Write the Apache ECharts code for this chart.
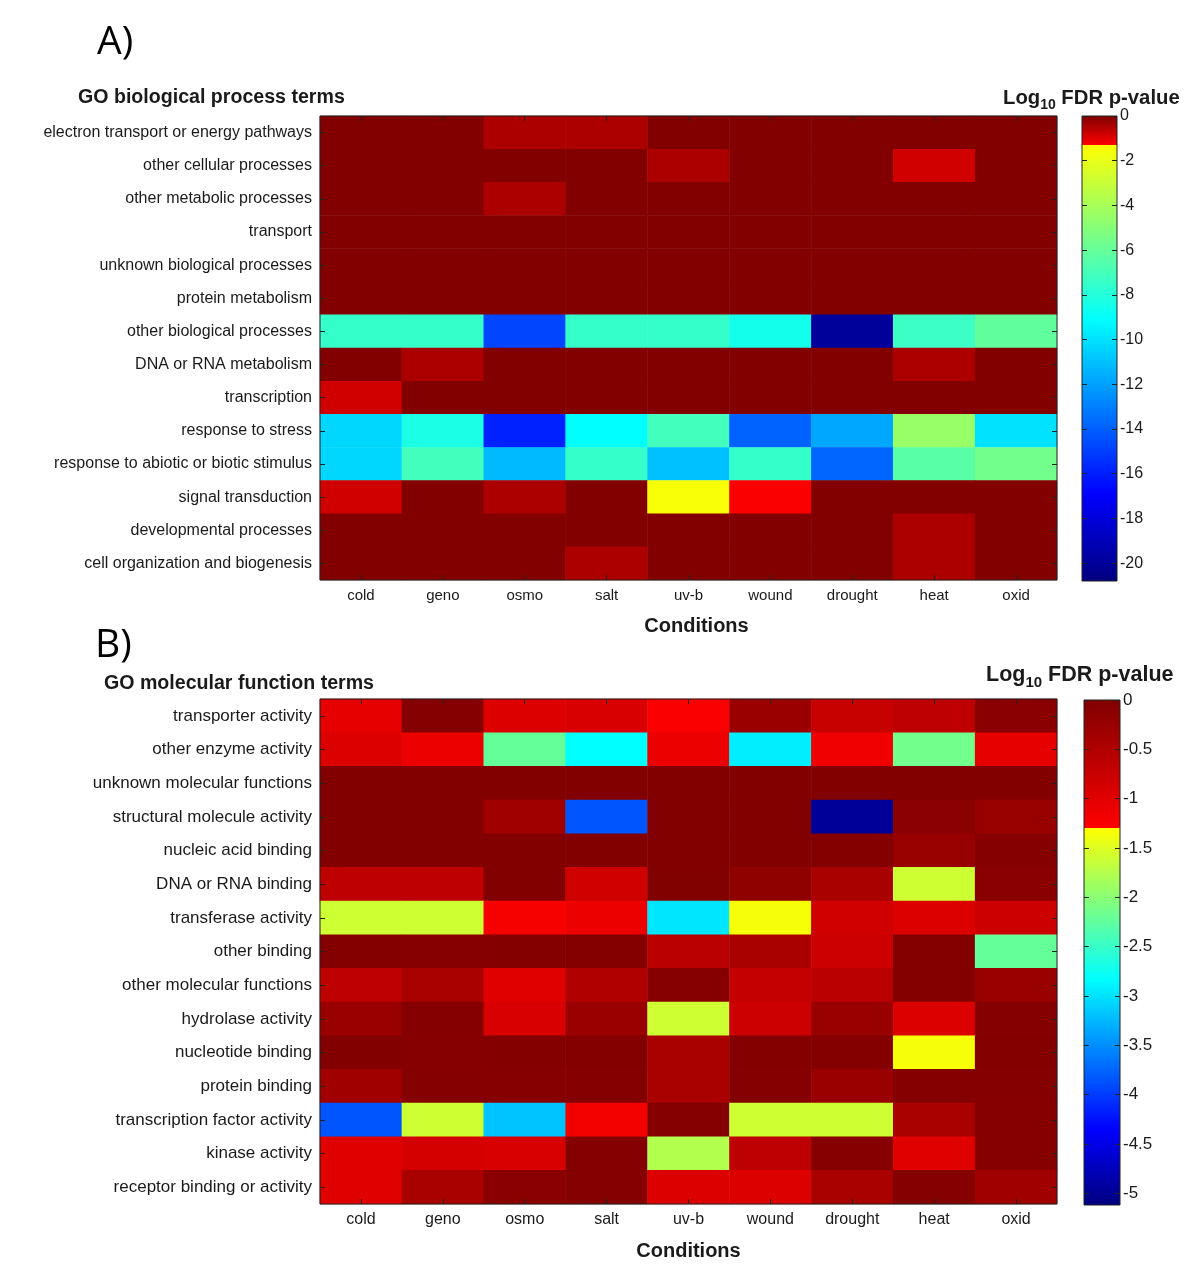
<!DOCTYPE html>
<html><head><meta charset="utf-8">
<script src="https://cdn.jsdelivr.net/npm/echarts@6/dist/echarts.min.js"></script>
<style>html,body{margin:0;padding:0;background:#fff}#c{width:1200px;height:1271px}</style>
</head><body><div id="c"></div>
<script>
// ---------------- DATA ----------------
const conditions = ['cold','geno','osmo','salt','uv-b','wound','drought','heat','oxid'];

const bpTerms = [
  'electron transport or energy pathways','other cellular processes','other metabolic processes',
  'transport','unknown biological processes','protein metabolism','other biological processes',
  'DNA or RNA metabolism','transcription','response to stress','response to abiotic or biotic stimulus',
  'signal transduction','developmental processes','cell organization and biogenesis'
];
// log10 FDR p-values, one row per term, columns follow `conditions`
const bpValues = [
  [-0.04,-0.04,-0.45,-0.45,-0.04,-0.04,-0.04,-0.04,-0.04],
  [-0.04,-0.04,-0.04,-0.04,-0.45,-0.04,-0.04,-0.82,-0.04],
  [-0.04,-0.04,-0.45,-0.04,-0.04,-0.04,-0.04,-0.04,-0.04],
  [-0.04,-0.04,-0.04,-0.04,-0.04,-0.04,-0.04,-0.04,-0.04],
  [-0.04,-0.04,-0.04,-0.04,-0.04,-0.04,-0.04,-0.04,-0.04],
  [-0.04,-0.04,-0.04,-0.04,-0.04,-0.04,-0.04,-0.04,-0.04],
  [-7.5,-7.5,-14.8,-7.5,-7.5,-8.5,-20.0,-7.3,-6.1],
  [-0.04,-0.45,-0.04,-0.04,-0.04,-0.04,-0.04,-0.45,-0.04],
  [-0.82,-0.04,-0.04,-0.04,-0.04,-0.04,-0.04,-0.04,-0.04],
  [-10.3,-8.3,-15.9,-9.1,-7.1,-13.9,-11.8,-4.4,-10.0],
  [-10.3,-7.1,-11.2,-7.5,-11.0,-7.5,-13.8,-6.4,-5.6],
  [-0.82,-0.04,-0.45,-0.04,-1.5,-1.25,-0.04,-0.04,-0.04],
  [-0.04,-0.04,-0.04,-0.04,-0.04,-0.04,-0.04,-0.45,-0.04],
  [-0.04,-0.04,-0.04,-0.45,-0.04,-0.04,-0.04,-0.45,-0.04]
];

const mfTerms = [
  'transporter activity','other enzyme activity','unknown molecular functions','structural molecule activity',
  'nucleic acid binding','DNA or RNA binding','transferase activity','other binding','other molecular functions',
  'hydrolase activity','nucleotide binding','protein binding','transcription factor activity','kinase activity',
  'receptor binding or activity'
];
const mfValues = [
  [-1.04,-0.05,-0.95,-0.90,-1.25,-0.27,-0.73,-0.65,-0.10],
  [-0.95,-1.10,-2.22,-2.83,-1.10,-2.93,-1.15,-2.14,-1.04],
  [-0.03,-0.03,-0.03,-0.03,-0.03,-0.03,-0.03,-0.03,-0.03],
  [-0.03,-0.03,-0.33,-3.85,-0.03,-0.03,-4.97,-0.12,-0.25],
  [-0.03,-0.03,-0.03,-0.03,-0.03,-0.03,-0.04,-0.25,-0.06],
  [-0.65,-0.65,-0.03,-0.80,-0.02,-0.16,-0.43,-1.60,-0.10],
  [-1.60,-1.60,-1.22,-1.10,-2.98,-1.35,-0.82,-0.95,-0.78],
  [-0.04,-0.08,-0.04,-0.04,-0.60,-0.42,-0.78,-0.04,-2.22],
  [-0.65,-0.43,-0.99,-0.50,-0.08,-0.70,-0.60,-0.04,-0.26],
  [-0.26,-0.05,-0.90,-0.27,-1.60,-0.78,-0.26,-0.95,-0.05],
  [-0.03,-0.08,-0.04,-0.04,-0.43,-0.04,-0.04,-1.35,-0.04],
  [-0.33,-0.05,-0.08,-0.05,-0.43,-0.05,-0.26,-0.05,-0.05],
  [-3.85,-1.60,-3.18,-1.17,-0.05,-1.60,-1.60,-0.43,-0.08],
  [-0.99,-0.86,-0.90,-0.05,-1.76,-0.62,-0.08,-0.99,-0.08],
  [-0.99,-0.43,-0.10,-0.05,-0.95,-0.95,-0.43,-0.05,-0.33]
];

const bpRange = [-20.8, 0];
const mfRange = [-5.12, 0];
const sigThreshold = -1.3;
const bpBarTicks = [0,-2,-4,-6,-8,-10,-12,-14,-16,-18,-20];
const mfBarTicks = [0,-0.5,-1,-1.5,-2,-2.5,-3,-3.5,-4,-4.5,-5];

// ---------------- COLOUR MAP ----------------
function clamp(x){return Math.max(0,Math.min(1,x));}
function jet(t){return [clamp(1.5-Math.abs(4*t-3)),clamp(1.5-Math.abs(4*t-2)),clamp(1.5-Math.abs(4*t-1))];}
function cmap(v,min){
  if (v > sigThreshold) { const f = v / sigThreshold; return [0.5+0.5*f,0,0]; }
  return jet(0.625*(v-min)/(sigThreshold-min));
}
function hex(c){return '#'+c.map(x=>Math.round(x*255).toString(16).padStart(2,'0')).join('');}
function vmColors(range){
  const N=600, out=[];
  for(let i=0;i<N;i++){const v=range[0]+(range[1]-range[0])*i/(N-1); out.push(hex(cmap(v,range[0])));}
  return out;
}
function barGradient(range){
  const stops=[], N=200, span=range[1]-range[0];
  const th=(range[1]-sigThreshold)/span;
  for(let i=0;i<=N;i++){
    const o=i/N; if (Math.abs(o-th)<1e-9) continue;
    stops.push({offset:o,color:hex(cmap(range[1]-o*span,range[0]))});
  }
  stops.push({offset:th-1e-6,color:hex([1,0,0])});
  stops.push({offset:th+1e-6,color:hex(jet(0.625))});
  stops.sort((a,b)=>a.offset-b.offset);
  return {type:'linear',x:0,y:0,x2:0,y2:1,colorStops:stops};
}
function heatData(values){
  const d=[]; values.forEach((row,r)=>row.forEach((v,c)=>d.push([c,r,v]))); return d;
}

// ---------------- STYLE ----------------
const FONT='"Liberation Sans", Arial, sans-serif';
const txt='#1a1a1a';
const tickIn={show:true,inside:true,alignWithLabel:true,length:5,lineStyle:{color:'#222',width:1}};
function lbl(size){return {fontFamily:FONT,fontSize:size,color:txt};}

function catX(grid,pos,show,size,gap,shift){
  return {type:'category',gridIndex:grid,position:pos,data:conditions,z:10,
    axisLine:{show:false},axisTick:tickIn,splitLine:{show:false},
    axisLabel:show?Object.assign({margin:8},lbl(size)):{show:false},
    name:show?'Conditions':'',nameLocation:'middle',nameGap:gap||0,
    nameTextStyle:{fontFamily:FONT,fontSize:20,fontWeight:'bold',color:txt,padding:[0,0,0,shift||0]}};
}
function catY(grid,pos,terms,show,size){
  return {type:'category',gridIndex:grid,position:pos,data:terms,inverse:true,z:10,
    axisLine:{show:false},axisTick:tickIn,splitLine:{show:false},
    axisLabel:show?Object.assign({margin:8},lbl(size)):{show:false}};
}
function barY(grid,pos,range,ticks,show,size){
  return {type:'value',gridIndex:grid,position:pos,min:range[0],max:range[1],z:10,
    axisLine:{show:false},splitLine:{show:false},
    axisTick:{show:true,inside:true,length:5,customValues:ticks,lineStyle:{color:'#222'}},
    axisLabel:show?Object.assign({customValues:ticks,margin:3},lbl(size)):{show:false}};
}
function barX(grid){return {type:'category',gridIndex:grid,data:[''],show:false};}

const gridBorder={show:true,borderColor:'#222',borderWidth:1,backgroundColor:'transparent',z:10};
const logTitle='{a|Log}{s|10}{a| FDR p-value}';
function logRich(big,small){
  return {a:{fontFamily:FONT,fontSize:big,fontWeight:'bold',color:txt},
          s:{fontFamily:FONT,fontSize:small,fontWeight:'bold',color:txt,padding:[14,0,0,0]}};
}
const panelFont={fontFamily:'"Open Sans", sans-serif',fontSize:39,fontWeight:'normal',color:'#000'};
const termTitle={fontFamily:FONT,fontSize:19.6,fontWeight:'bold',color:txt};

const option={
  animation:false,
  backgroundColor:'#fff',
  title:[
    {text:'A)',left:97,top:23,padding:0,textStyle:panelFont},
    {text:'GO biological process terms',left:78,top:88,padding:0,textStyle:termTitle},
    {text:logTitle,left:1003,top:84,padding:0,textStyle:{rich:logRich(20.3,14)}},
    {text:'B)',left:95,top:626,padding:0,textStyle:panelFont},
    {text:'GO molecular function terms',left:104,top:674,padding:0,textStyle:termTitle},
    {text:logTitle,left:986,top:661,padding:0,textStyle:{rich:logRich(21.5,15)}}
  ],
  grid:[
    Object.assign({left:320,top:116,width:737,height:464},gridBorder),
    Object.assign({left:1082,top:116,width:35,height:465},gridBorder),
    Object.assign({left:320,top:699,width:737,height:505},gridBorder),
    Object.assign({left:1084,top:700,width:36,height:505},gridBorder)
  ],
  xAxis:[catX(0,'bottom',true,15,36,16),catX(0,'top',false),barX(1),
         catX(2,'bottom',true,16,37,0),catX(2,'top',false),barX(3)],
  yAxis:[catY(0,'left',bpTerms,true,16),catY(0,'right',bpTerms,false),
         barY(1,'right',bpRange,bpBarTicks,true,16),barY(1,'left',bpRange,bpBarTicks,false),
         catY(2,'left',mfTerms,true,17),catY(2,'right',mfTerms,false),
         barY(3,'right',mfRange,mfBarTicks,true,17),barY(3,'left',mfRange,mfBarTicks,false)],
  visualMap:[
    {type:'continuous',show:false,seriesIndex:0,min:bpRange[0],max:bpRange[1],inRange:{color:vmColors(bpRange)}},
    {type:'continuous',show:false,seriesIndex:2,min:mfRange[0],max:mfRange[1],inRange:{color:vmColors(mfRange)}}
  ],
  series:[
    {type:'heatmap',xAxisIndex:0,yAxisIndex:0,data:heatData(bpValues),emphasis:{disabled:true},progressive:0},
    {type:'bar',xAxisIndex:2,yAxisIndex:2,data:[bpRange[0]],barWidth:'100%',itemStyle:{color:barGradient(bpRange)},silent:true},
    {type:'heatmap',xAxisIndex:3,yAxisIndex:4,data:heatData(mfValues),emphasis:{disabled:true},progressive:0},
    {type:'bar',xAxisIndex:5,yAxisIndex:6,data:[mfRange[0]],barWidth:'100%',itemStyle:{color:barGradient(mfRange)},silent:true}
  ]
};
const chart=echarts.init(document.getElementById('c'),null,{renderer:'canvas'});
chart.setOption(option);
</script></body></html>
